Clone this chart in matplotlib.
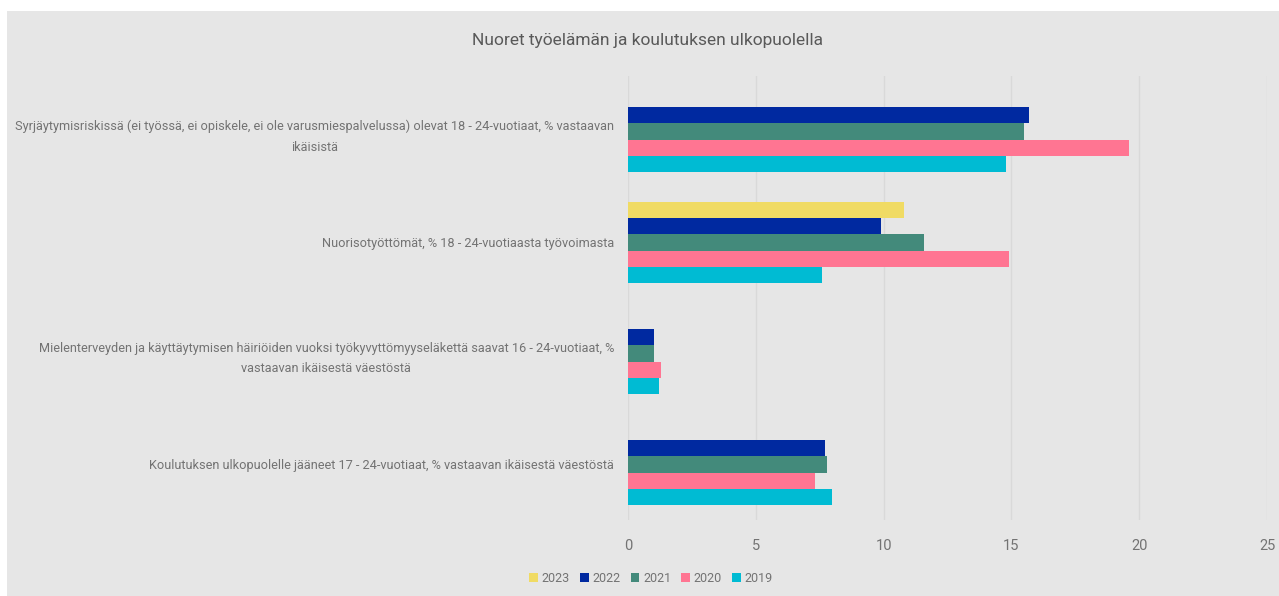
import numpy as np
import matplotlib.pyplot as plt

# --- Data ---
categories = [
    "Syrjäytymisriskissä (ei työssä, ei opiskele, ei ole varusmiespalvelussa) olevat 18 - 24-vuotiaat, % vastaavan\nikäisistä",
    "Nuorisotyöttömät, % 18 - 24-vuotiaasta työvoimasta",
    "Mielenterveyden ja käyttäytymisen häiriöiden vuoksi työkyvyttömyyseläkettä saavat 16 - 24-vuotiaat, %\nvastaavan ikäisestä väestöstä",
    "Koulutuksen ulkopuolelle jääneet 17 - 24-vuotiaat, % vastaavan ikäisestä väestöstä",
]
years = ["2023", "2022", "2021", "2020", "2019"]
v2023 = [np.nan, 10.8, np.nan, np.nan]
v2022 = [15.7, 9.9, 1.0, 7.7]
v2021 = [15.5, 11.6, 1.0, 7.8]
v2020 = [19.6, 14.9, 1.3, 7.3]
v2019 = [14.8, 7.6, 1.2, 8.0]
series = [v2023, v2022, v2021, v2020, v2019]
colors = ["#F0DB64", "#0029A0", "#438A7B", "#FF7592", "#00BBD3"]

plt.rcParams["font.family"] = ["Roboto", "DejaVu Sans"]

txt_col = "#737373"
bg = "#E6E6E6"

fig = plt.figure(figsize=(12.79, 5.96), dpi=100)
fig.patches.append(plt.Rectangle((7 / 1279, 0), 1 - 7 / 1279, 1 - 11 / 596,
                                 transform=fig.transFigure, facecolor=bg,
                                 edgecolor="none", zorder=-10))
ax = fig.add_axes([628 / 1279, 76 / 596, (1267 - 628) / 1279, 444 / 596])
ax.set_facecolor("none")

h = 0.146
y = np.arange(len(categories))
for j, (vals, c, yr) in enumerate(zip(series, colors, years)):
    ax.barh(y + (j - 2) * h, vals, height=h, color=c, label=yr, zorder=3)

ax.set_xlim(0, 25)
ax.set_ylim(3.5, -0.5)
ax.set_xticks(np.arange(0, 26, 5))
ax.grid(axis="x", color="#D9D9D9", linewidth=1, zorder=0)
for s in ax.spines.values():
    s.set_visible(False)
ax.tick_params(axis="both", length=0, colors=txt_col)
ax.tick_params(axis="x", pad=14, labelsize=10.5)
ax.tick_params(axis="y", pad=10, labelsize=9.2)
ax.set_yticks(y)
ax.set_yticklabels(categories, linespacing=1.75)
for lab in ax.get_yticklabels():
    lab.set_multialignment("center")
    lab.set_color(txt_col)

fig.text(648 / 1279, 1 - 40 / 596, "Nuoret työelämän ja koulutuksen ulkopuolella",
         ha="center", va="center", fontsize=12.5, color="#595959")

fig.legend(loc="center", bbox_to_anchor=(651 / 1279, 18 / 596), ncol=5,
           frameon=False, handlelength=0.7, handleheight=0.7,
           handletextpad=0.3, columnspacing=0.8,
           labelcolor=txt_col, fontsize=9)

fig.savefig("out.png", dpi=100, facecolor="white")
